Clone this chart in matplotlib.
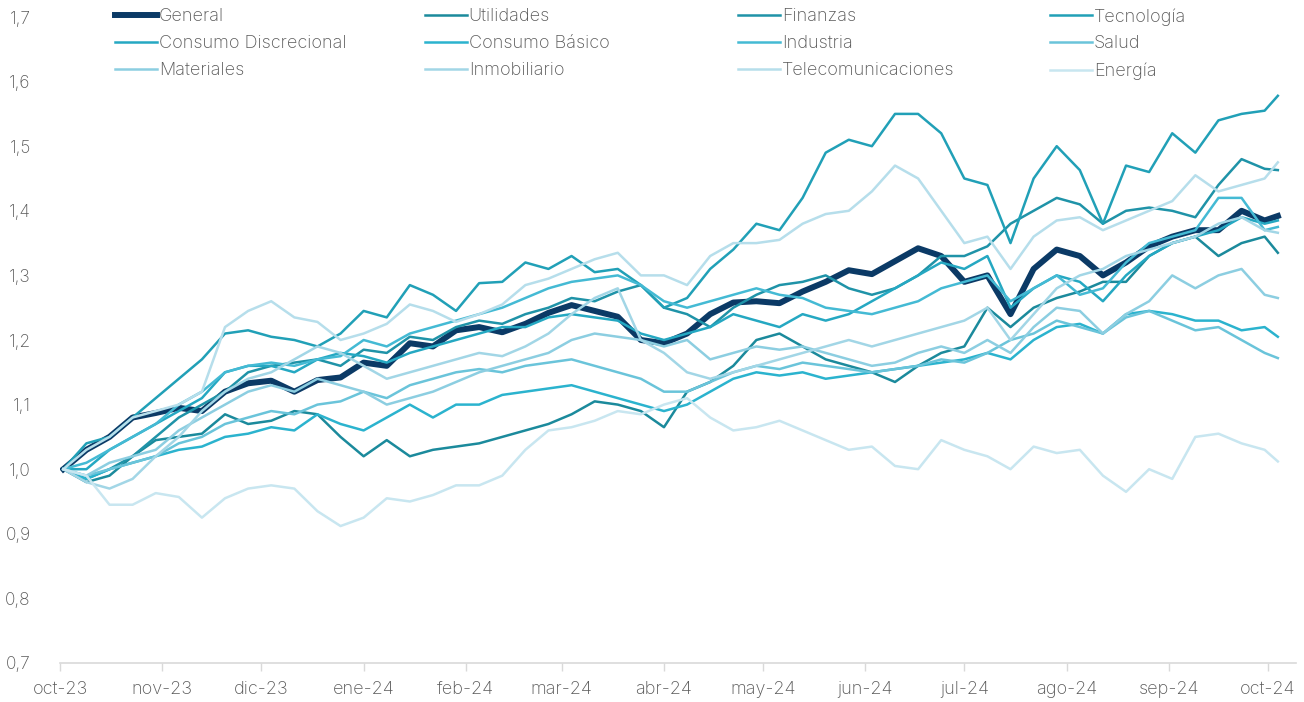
import numpy as np
import pandas as pd
import matplotlib
matplotlib.use("Agg")
import matplotlib.pyplot as plt
import matplotlib.dates as mdates
from matplotlib.lines import Line2D

plt.rcParams['font.family'] = ['Inter', 'DejaVu Sans']
plt.rcParams['font.weight'] = 'light'

# fechas semanales (lunes) + último dato
fechas = list(pd.date_range('2023-10-02', periods=53, freq='7D')) + [pd.Timestamp('2024-10-04')]

general = [1.00, 1.03, 1.05, 1.08, 1.087, 1.095, 1.09, 1.12, 1.133, 1.137, 1.12, 1.138, 1.142, 1.165,
           1.16, 1.195, 1.19, 1.215, 1.22, 1.212, 1.225, 1.242, 1.254, 1.245, 1.236, 1.20, 1.195, 1.21,
           1.24, 1.258, 1.26, 1.257, 1.275, 1.29, 1.308, 1.302, 1.322, 1.342, 1.33, 1.29, 1.30, 1.24,
           1.31, 1.34, 1.33, 1.30, 1.32, 1.345, 1.36, 1.37, 1.37, 1.40, 1.385, 1.392]
utilidades = [1.00, 0.98, 0.99, 1.02, 1.045, 1.05, 1.055, 1.085, 1.07, 1.075, 1.09, 1.085, 1.05, 1.02,
              1.045, 1.02, 1.03, 1.035, 1.04, 1.05, 1.06, 1.07, 1.085, 1.105, 1.10, 1.09, 1.065, 1.12,
              1.135, 1.16, 1.20, 1.21, 1.19, 1.17, 1.16, 1.15, 1.135, 1.16, 1.18, 1.19, 1.25, 1.22,
              1.25, 1.265, 1.275, 1.29, 1.29, 1.33, 1.35, 1.36, 1.33, 1.35, 1.36, 1.335]
finanzas = [1.00, 0.985, 1.00, 1.02, 1.05, 1.08, 1.10, 1.12, 1.15, 1.16, 1.165, 1.17, 1.16, 1.185,
            1.18, 1.205, 1.20, 1.22, 1.23, 1.225, 1.24, 1.25, 1.265, 1.26, 1.275, 1.285, 1.25, 1.24,
            1.22, 1.25, 1.27, 1.285, 1.29, 1.30, 1.28, 1.27, 1.28, 1.30, 1.33, 1.33, 1.345, 1.38,
            1.40, 1.42, 1.41, 1.38, 1.40, 1.405, 1.40, 1.39, 1.44, 1.48, 1.465, 1.463]
tecnologia = [1.00, 1.04, 1.05, 1.08, 1.11, 1.14, 1.17, 1.21, 1.215, 1.205, 1.20, 1.19, 1.21, 1.245,
              1.235, 1.285, 1.27, 1.245, 1.288, 1.29, 1.32, 1.31, 1.33, 1.305, 1.31, 1.285, 1.25, 1.265,
              1.31, 1.34, 1.38, 1.37, 1.42, 1.49, 1.51, 1.50, 1.55, 1.55, 1.52, 1.45, 1.44, 1.35,
              1.45, 1.50, 1.463, 1.38, 1.47, 1.46, 1.52, 1.49, 1.54, 1.55, 1.555, 1.578]
cons_discrecional = [1.00, 1.00, 1.03, 1.05, 1.07, 1.09, 1.11, 1.15, 1.16, 1.16, 1.15, 1.17, 1.18, 1.175,
                     1.165, 1.18, 1.19, 1.20, 1.21, 1.22, 1.22, 1.235, 1.24, 1.235, 1.23, 1.21, 1.20, 1.21,
                     1.22, 1.24, 1.23, 1.22, 1.24, 1.23, 1.24, 1.26, 1.28, 1.30, 1.32, 1.31, 1.33, 1.25,
                     1.28, 1.30, 1.29, 1.26, 1.30, 1.33, 1.35, 1.36, 1.37, 1.39, 1.38, 1.385]
cons_basico = [1.00, 0.985, 1.00, 1.01, 1.02, 1.03, 1.035, 1.05, 1.055, 1.065, 1.06, 1.085, 1.07, 1.06,
               1.08, 1.10, 1.08, 1.10, 1.10, 1.115, 1.12, 1.125, 1.13, 1.12, 1.11, 1.10, 1.09, 1.10,
               1.12, 1.14, 1.15, 1.145, 1.15, 1.14, 1.145, 1.15, 1.155, 1.16, 1.165, 1.17, 1.18, 1.17,
               1.20, 1.22, 1.225, 1.21, 1.24, 1.245, 1.24, 1.23, 1.23, 1.215, 1.22, 1.205]
industria = [1.00, 1.01, 1.03, 1.05, 1.07, 1.10, 1.12, 1.15, 1.16, 1.165, 1.16, 1.17, 1.175, 1.20,
             1.19, 1.21, 1.22, 1.23, 1.24, 1.25, 1.265, 1.28, 1.29, 1.295, 1.30, 1.285, 1.26, 1.25,
             1.26, 1.27, 1.28, 1.27, 1.265, 1.25, 1.245, 1.24, 1.25, 1.26, 1.28, 1.29, 1.30, 1.26,
             1.28, 1.30, 1.27, 1.28, 1.32, 1.35, 1.36, 1.37, 1.42, 1.42, 1.37, 1.375]
salud = [1.00, 0.99, 1.00, 1.01, 1.02, 1.04, 1.05, 1.07, 1.08, 1.09, 1.085, 1.10, 1.105, 1.12,
         1.11, 1.13, 1.14, 1.15, 1.155, 1.15, 1.16, 1.165, 1.17, 1.16, 1.15, 1.14, 1.12, 1.12,
         1.135, 1.15, 1.16, 1.155, 1.165, 1.16, 1.155, 1.15, 1.155, 1.16, 1.17, 1.165, 1.18, 1.20,
         1.21, 1.23, 1.22, 1.21, 1.235, 1.245, 1.23, 1.215, 1.22, 1.20, 1.18, 1.172]
materiales = [1.00, 0.99, 1.01, 1.02, 1.03, 1.06, 1.08, 1.10, 1.12, 1.13, 1.12, 1.14, 1.13, 1.12,
              1.10, 1.11, 1.12, 1.135, 1.15, 1.16, 1.17, 1.18, 1.20, 1.21, 1.205, 1.20, 1.19, 1.20,
              1.17, 1.18, 1.19, 1.185, 1.19, 1.18, 1.17, 1.16, 1.165, 1.18, 1.19, 1.18, 1.20, 1.18,
              1.22, 1.25, 1.245, 1.21, 1.24, 1.26, 1.30, 1.28, 1.30, 1.31, 1.27, 1.265]
inmobiliario = [1.00, 0.98, 0.97, 0.985, 1.02, 1.05, 1.09, 1.12, 1.14, 1.15, 1.17, 1.19, 1.18, 1.16,
                1.14, 1.15, 1.16, 1.17, 1.18, 1.175, 1.19, 1.21, 1.24, 1.265, 1.28, 1.20, 1.18, 1.15,
                1.14, 1.15, 1.16, 1.17, 1.18, 1.19, 1.20, 1.19, 1.20, 1.21, 1.22, 1.23, 1.25, 1.20,
                1.24, 1.28, 1.30, 1.31, 1.33, 1.34, 1.35, 1.36, 1.38, 1.39, 1.37, 1.366]
telecom = [1.00, 1.03, 1.05, 1.08, 1.09, 1.10, 1.12, 1.22, 1.245, 1.26, 1.235, 1.228, 1.20, 1.21,
           1.225, 1.255, 1.245, 1.228, 1.24, 1.255, 1.285, 1.295, 1.31, 1.325, 1.335, 1.30, 1.30, 1.285,
           1.33, 1.35, 1.35, 1.355, 1.38, 1.395, 1.40, 1.43, 1.47, 1.45, 1.40, 1.35, 1.36, 1.31,
           1.36, 1.385, 1.39, 1.37, 1.385, 1.40, 1.415, 1.455, 1.43, 1.44, 1.45, 1.475]
energia = [1.00, 0.99, 0.945, 0.945, 0.963, 0.957, 0.925, 0.955, 0.97, 0.975, 0.97, 0.935, 0.912, 0.925,
           0.955, 0.95, 0.96, 0.975, 0.975, 0.99, 1.03, 1.06, 1.065, 1.075, 1.09, 1.085, 1.10, 1.11,
           1.08, 1.06, 1.065, 1.075, 1.06, 1.045, 1.03, 1.035, 1.005, 1.00, 1.045, 1.03, 1.02, 1.00,
           1.035, 1.025, 1.03, 0.99, 0.965, 1.00, 0.985, 1.05, 1.055, 1.04, 1.03, 1.012]

nombres = ['General', 'Utilidades', 'Finanzas', 'Tecnología', 'Consumo Discrecional', 'Consumo Básico',
           'Industria', 'Salud', 'Materiales', 'Inmobiliario', 'Telecomunicaciones', 'Energía']
series = [general, utilidades, finanzas, tecnologia, cons_discrecional, cons_basico,
          industria, salud, materiales, inmobiliario, telecom, energia]
colores = ['#0B3A66', '#1B8A9C', '#1F93A8', '#21A0B7', '#25A8C2', '#2BB3CE',
           '#44BAD4', '#6AC4DA', '#8CCEE1', '#A2D6E6', '#B6DEEB', '#C8E6F0']
gris = '#595959'

fig = plt.figure(figsize=(13.04, 7.02), dpi=100)
ax = fig.add_axes([60/1304, 1 - 663/702, (1296-60)/1304, (663-17)/702])

for i, (nom, s, c) in enumerate(zip(nombres, series, colores)):
    lw = 4.3 if i == 0 else 1.8
    ax.plot(fechas, s, color=c, lw=lw, label=nom, solid_joinstyle='round')

ax.set_ylim(0.7, 1.7)
ax.set_xlim(pd.Timestamp('2023-10-01'), pd.Timestamp('2024-10-09 12:00'))
ax.set_yticks(np.arange(0.7, 1.71, 0.1))
ax.set_yticklabels([f'{v:.1f}'.replace('.', ',') for v in np.arange(0.7, 1.71, 0.1)])
ax.xaxis.set_major_locator(mdates.MonthLocator())
meses = ['ene', 'feb', 'mar', 'abr', 'may', 'jun', 'jul', 'ago', 'sep', 'oct', 'nov', 'dic']
ax.xaxis.set_major_formatter(plt.FuncFormatter(
    lambda x, p: f"{meses[mdates.num2date(x).month-1]}-{mdates.num2date(x).strftime('%y')}"))

for sp in ['top', 'right', 'left']:
    ax.spines[sp].set_visible(False)
ax.spines['bottom'].set_color('#D9D9D9')
ax.spines['bottom'].set_linewidth(1.2)
ax.tick_params(axis='y', length=0, pad=21, labelsize=12.5, labelcolor=gris)
ax.tick_params(axis='x', length=6, width=1, color='#D9D9D9', pad=7, labelsize=13, labelcolor=gris)

# leyenda en 4 columnas, orden por filas
handles = [Line2D([], [], color=c, lw=(4.3 if i == 0 else 1.8)) for i, c in enumerate(colores)]
col_x = [115, 425, 738, 1050]
for c in range(4):
    leg = fig.legend(handles[c::4], nombres[c::4], loc='upper left',
                     bbox_to_anchor=(col_x[c]/1304, 1 - 8/702), frameon=False,
                     fontsize=13, handlelength=2.3, handletextpad=0.12, borderpad=0,
                     labelspacing=0.55, labelcolor=gris, borderaxespad=0)

fig.savefig('out.png', dpi=100)
